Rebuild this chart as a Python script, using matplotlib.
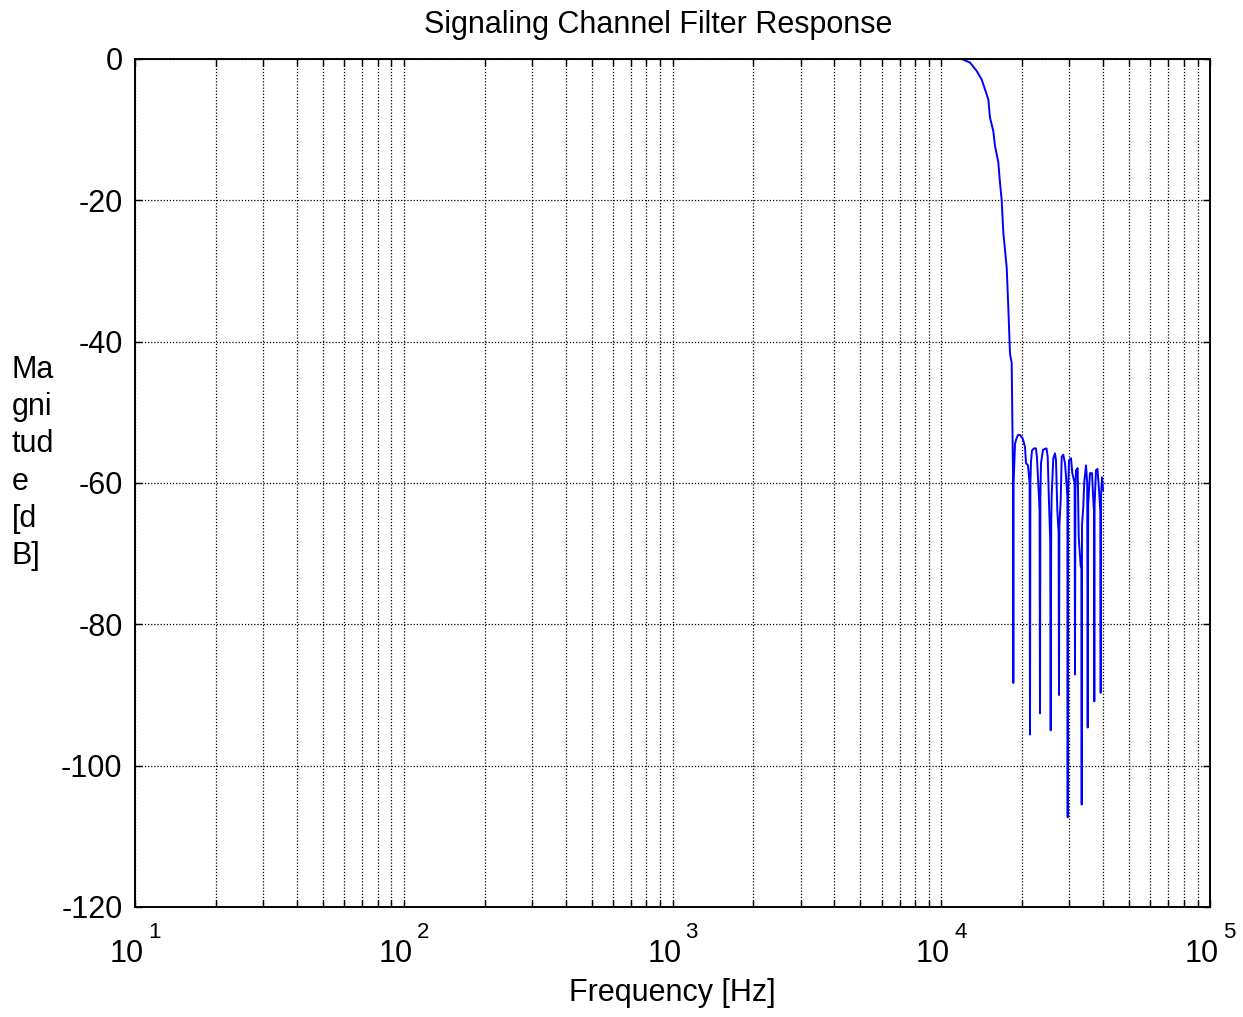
import numpy as np
import matplotlib
matplotlib.use("Agg")
import matplotlib.pyplot as plt
from matplotlib.ticker import LogLocator, FixedLocator, NullFormatter


plt.rcParams["font.family"] = ["Liberation Sans", "DejaVu Sans"]
plt.rcParams["axes.unicode_minus"] = False

COLOUR_LINE = "#0000FF"
COLOUR_GRID = "#000000"
FONT_SIZE   = 22
EXP_SIZE    = 16

# passband, flat at 0 dB
pass_freq = [39.06, 100, 1000, 5000, 10000, 11914]
pass_db   = [0, 0, 0, 0, 0, 0]

# transition band roll-off
trans_freq = [12793, 13549, 14142, 14547, 14964, 15184, 15619, 15849,
              16303, 16542, 16785, 17016, 17520, 17761, 18022, 18286, 18412, 18491]
trans_db   = [-0.5, -1.7, -2.9, -4.3, -5.7, -8.3, -10.2, -12.3,
              -14.6, -17.5, -20.0, -24.5, -29.5, -35.1, -41.7, -43.0, -53.0, -58.5]

# stopband lobes and nulls
stop_freq = [18539, 18587, 18811, 18973, 19301, 19634, 20094, 20494, 20670, 21027,
             21318, 21390, 21464, 21575, 21760, 22137, 22519, 22713, 23106, 23225,
             23303, 23384, 23505, 23911, 24639, 24894, 25172, 25432, 25542, 25651,
             25762, 26117, 26500, 26728, 27028, 27330, 27424, 27518, 27826, 28066,
             28453, 28871, 29295, 29471, 29547, 29623, 29878, 30394, 30735, 31347,
             31454, 31562, 31725, 32190, 32467, 33028, 33227, 33313, 33398, 33772,
             34063, 34563, 34920, 35070, 35221, 35761, 36386, 36857, 37015, 37111,
             37206, 37655, 38142, 38635, 39068, 39202, 39303, 39641, 39982]
stop_db   = [-88.3, -60.0, -54.5, -53.9, -53.2, -53.2, -53.7, -54.9, -57.2, -57.5,
             -60.0, -95.6, -60.0, -57.0, -55.4, -55.1, -55.1, -56.5, -62.0, -64.0,
             -92.6, -62.0, -57.2, -55.3, -55.1, -56.3, -62.8, -68.0, -95.0, -66.0,
             -61.7, -56.5, -55.8, -56.8, -63.8, -67.0, -90.0, -66.0, -62.4, -56.3,
             -56.0, -57.2, -60.5, -62.0, -107.3, -62.0, -56.8, -56.5, -58.6, -60.0,
             -87.1, -61.0, -58.2, -57.9, -67.6, -71.8, -72.0, -105.5, -66.0, -63.3,
             -59.8, -57.5, -60.0, -94.6, -63.0, -58.6, -58.6, -63.0, -64.0, -90.9,
             -63.0, -58.2, -58.0, -61.0, -64.0, -89.7, -62.0, -59.2, -61.0]

y_ticks = [-120, -100, -80, -60, -40, -20, 0]
x_tick_exps = [1, 2, 3, 4, 5]

freq_hz = pass_freq + trans_freq + stop_freq
mag_db  = pass_db + trans_db + stop_db


W, H = 1243, 1017
fig = plt.figure(figsize=(W / 100, H / 100), dpi=100)
ax = fig.add_axes([135 / W, 1 - 907 / H, 1075 / W, 848 / H])

ax.plot(freq_hz, mag_db, color=COLOUR_LINE, linewidth=1.4)

ax.set_xscale("log")
ax.set_xlim(10, 1e5)
ax.set_ylim(-120, 0)

ax.xaxis.set_major_locator(LogLocator(base=10, numticks=10))
ax.xaxis.set_minor_locator(LogLocator(base=10, subs=np.arange(2, 10), numticks=20))
ax.xaxis.set_major_formatter(NullFormatter())
ax.xaxis.set_minor_formatter(NullFormatter())
ax.yaxis.set_major_locator(FixedLocator(y_ticks))

ax.grid(True, which="major", axis="both", color=COLOUR_GRID,
        linestyle=(0, (1, 1.5)), linewidth=0.9)
ax.grid(True, which="minor", axis="x", color=COLOUR_GRID,
        linestyle=(0, (1, 1.5)), linewidth=0.9)

ax.tick_params(which="both", direction="in", top=True, right=True,
               length=5, width=1.0, colors="black")
ax.tick_params(axis="y", which="major", labelsize=FONT_SIZE, pad=9)

# MATLAB-style "10" with a big raised exponent under each decade
xform = ax.get_xaxis_transform()
for e in x_tick_exps:
    ax.annotate("10", xy=(10.0 ** e, 0), xycoords=xform,
                xytext=(9, -55), textcoords="offset pixels",
                ha="right", va="baseline", fontsize=FONT_SIZE, annotation_clip=False)
    ax.annotate(str(e), xy=(10.0 ** e, 0), xycoords=xform,
                xytext=(13, -31), textcoords="offset pixels",
                ha="left", va="baseline", fontsize=EXP_SIZE, annotation_clip=False)

for spine in ax.spines.values():
    spine.set_linewidth(1.4)
    spine.set_color("black")

ax.set_title("Signaling Channel Filter Response", fontsize=FONT_SIZE, pad=19,
             x=(658 - 135) / 1075)
ax.set_xlabel("Frequency [Hz]", fontsize=FONT_SIZE)
ax.xaxis.set_label_coords(0.5, -(978 - 907) / 848)

fig.text(12 / W, 1 - 463 / H, "Ma\ngni\ntud\ne\n[d\nB]", fontsize=FONT_SIZE,
         ha="left", va="center", linespacing=1.32)

fig.savefig("out.png", dpi=100, facecolor="white")
